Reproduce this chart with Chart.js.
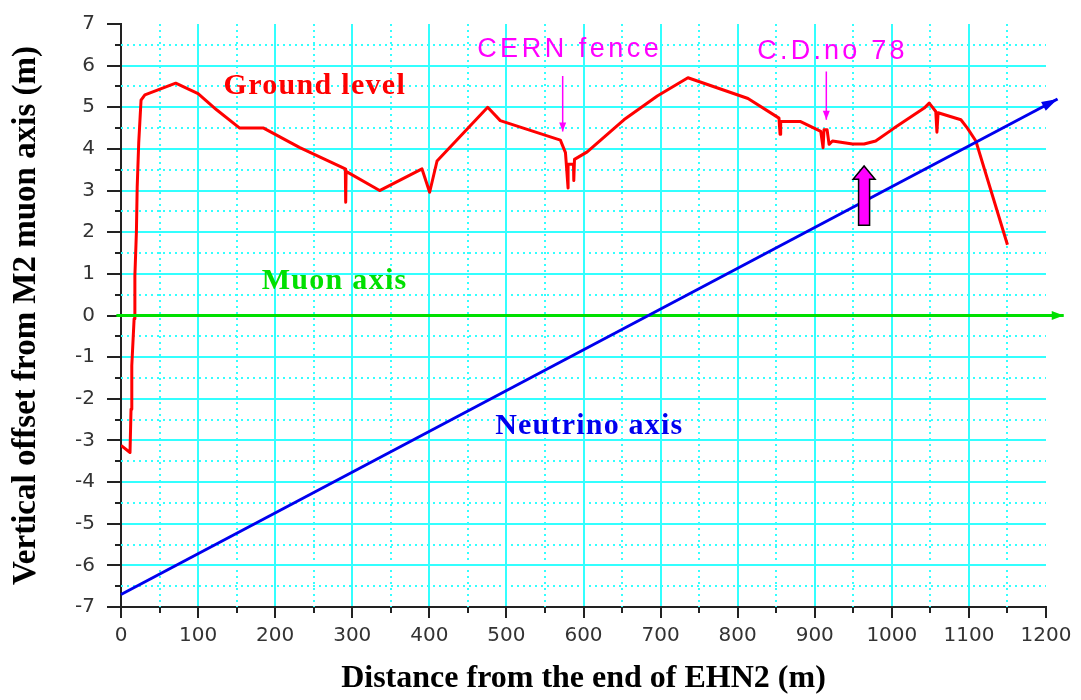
<!DOCTYPE html>
<html>
<head>
<meta charset="utf-8">
<title>Ground level, muon axis and neutrino axis</title>
<script src="https://cdn.jsdelivr.net/npm/chart.js@4.4.1/dist/chart.umd.min.js"></script>
<style>
  html, body { margin: 0; padding: 0; background: #fff; }
  #wrap { width: 1081px; height: 700px; }
</style>
</head>
<body>
<div id="wrap"><canvas id="profileChart"></canvas></div>
<script>
// ground profile (distance in m, offset in m)
const groundX = [0, 11.7, 13, 14, 17, 18, 20, 21, 23, 26,
  31, 71, 100, 124, 154, 185, 232, 291, 291.5, 292,
  335.5, 390.5, 400.4, 410, 475.7, 492, 570, 576.6, 580, 580,
  587, 587.4, 588.3, 604.8, 652.4, 695.7, 735.5, 813.4, 853.6, 855,
  855.8, 881, 907.8, 910.8, 912, 916, 918.6, 923, 949, 964,
  979, 1003, 1042, 1048.5, 1057, 1058.5, 1060, 1089.6, 1098, 1109,
  1150];
const groundY = [-3.12, -3.29, -2.25, -1.2, -0.08, 0.95, 2.01, 3.08, 4.15, 5.17,
  5.3, 5.58, 5.33, 4.94, 4.5, 4.5, 4.03, 3.52, 2.72, 3.46,
  3.0, 3.52, 2.96, 3.71, 5.0, 4.68, 4.21, 3.91, 3.06, 3.63,
  3.63, 3.24, 3.75, 3.93, 4.7, 5.27, 5.71, 5.21, 4.74, 4.35,
  4.66, 4.66, 4.42, 4.03, 4.46, 4.46, 4.11, 4.19, 4.12, 4.12,
  4.19, 4.5, 4.98, 5.1, 4.9, 4.4, 4.87, 4.7, 4.5, 4.19,
  1.7];

// the two beam axes
const muonX = [-6, 1223];
const muonY = [0, 0];
const nuX = [0, 1215];
const nuY = [-6.7, 5.2];

// little pointer arrows (CERN fence, C.D. no 78) and the big up arrow
const fenceX = [573, 573];
const fenceY = [5.75, 4.42];
const cdX = [915, 915];
const cdY = [5.86, 4.7];
const upArrowX = 964;
const upArrowY = [2.17, 3.27, 3.59]; // bottom, start of head, tip

// tick labels
const xTicks = [0, 100, 200, 300, 400, 500, 600, 700, 800, 900, 1000, 1100, 1200];
const yTicks = [-7, -6, -5, -4, -3, -2, -1, 0, 1, 2, 3, 4, 5, 6, 7];

const pts = (xs, ys) => xs.map((v, i) => ({ x: v, y: ys[i] }));

const CYAN = '#33ffff';
const AXIS = '#222';

// texts written on the plot, anchored in data units (left, baseline)
const notes = [
  { text: 'Ground level', x: 133, y: 5.32, color: '#ff0000', font: 'bold 30px "Liberation Serif"', spacing: 1.3 },
  { text: 'Muon axis', x: 182.5, y: 0.63, color: '#00e000', font: 'bold 30px "Liberation Serif"', spacing: 1.3 },
  { text: 'Neutrino axis', x: 485.5, y: -2.84, color: '#0000ee', font: 'bold 30px "Liberation Serif"', spacing: 1.2 },
  { text: 'CERN fence', x: 462, y: 6.2, color: '#ff00ff', font: '27px "Liberation Sans"', spacing: 3.5 },
  { text: 'C.D.no 78', x: 825.5, y: 6.16, color: '#ff00ff', font: '27px "Liberation Sans"', spacing: 3.2 }
];

function head(ctx, p0, p1, len, half, color) {
  const ang = Math.atan2(p1.y - p0.y, p1.x - p0.x);
  ctx.save();
  ctx.translate(p1.x, p1.y);
  ctx.rotate(ang);
  ctx.beginPath();
  ctx.moveTo(0, 0);
  ctx.lineTo(-len, -half);
  ctx.lineTo(-len, half);
  ctx.closePath();
  ctx.fillStyle = color;
  ctx.fill();
  ctx.restore();
}

const decor = {
  id: 'decor',
  beforeDatasetsDraw(chart) {
    const { ctx, chartArea: a, scales: { x, y } } = chart;
    ctx.save();
    // dotted half-step grid
    ctx.strokeStyle = CYAN;
    ctx.lineWidth = 2;
    ctx.setLineDash([2, 4]);
    for (let i = 0; i < xTicks.length - 1; i++) {
      const px = Math.round(x.getPixelForValue((xTicks[i] + xTicks[i + 1]) / 2));
      ctx.beginPath(); ctx.moveTo(px, a.top); ctx.lineTo(px, a.bottom); ctx.stroke();
    }
    for (let i = 0; i < yTicks.length - 1; i++) {
      const py = Math.round(y.getPixelForValue((yTicks[i] + yTicks[i + 1]) / 2));
      ctx.beginPath(); ctx.moveTo(a.left, py); ctx.lineTo(a.right, py); ctx.stroke();
    }
    // short minor ticks
    ctx.setLineDash([]);
    ctx.strokeStyle = AXIS;
    for (let i = 0; i < xTicks.length - 1; i++) {
      const px = Math.round(x.getPixelForValue((xTicks[i] + xTicks[i + 1]) / 2));
      ctx.beginPath(); ctx.moveTo(px, a.bottom); ctx.lineTo(px, a.bottom + 6); ctx.stroke();
    }
    for (let i = 0; i < yTicks.length - 1; i++) {
      const py = Math.round(y.getPixelForValue((yTicks[i] + yTicks[i + 1]) / 2));
      ctx.beginPath(); ctx.moveTo(a.left - 6, py); ctx.lineTo(a.left, py); ctx.stroke();
    }
    ctx.restore();
  },
  afterDatasetsDraw(chart) {
    const { ctx, scales: { x, y } } = chart;
    // arrow heads at the end of flagged datasets
    chart.data.datasets.forEach((ds, i) => {
      if (!ds.arrow) return;
      const d = chart.getDatasetMeta(i).data;
      const p0 = d[d.length - 2], p1 = d[d.length - 1];
      head(ctx, p0, p1, ds.arrow[0], ds.arrow[1], ds.borderColor);
    });

    // big magenta arrow
    const cx = x.getPixelForValue(upArrowX);
    const yb = y.getPixelForValue(upArrowY[0]);
    const yh = y.getPixelForValue(upArrowY[1]);
    const yt = y.getPixelForValue(upArrowY[2]);
    ctx.save();
    ctx.beginPath();
    ctx.moveTo(cx - 5.5, yb);
    ctx.lineTo(cx - 5.5, yh);
    ctx.lineTo(cx - 11, yh);
    ctx.lineTo(cx, yt);
    ctx.lineTo(cx + 11, yh);
    ctx.lineTo(cx + 5.5, yh);
    ctx.lineTo(cx + 5.5, yb);
    ctx.closePath();
    ctx.fillStyle = '#ff00ff';
    ctx.fill();
    ctx.lineWidth = 1.5;
    ctx.strokeStyle = '#000';
    ctx.stroke();

    // labels
    ctx.textAlign = 'left';
    ctx.textBaseline = 'alphabetic';
    notes.forEach(n => {
      ctx.font = n.font;
      ctx.letterSpacing = n.spacing + 'px';
      ctx.fillStyle = n.color;
      ctx.fillText(n.text, x.getPixelForValue(n.x), y.getPixelForValue(n.y));
    });
    ctx.letterSpacing = '0px';
    ctx.restore();
  }
};

const ctx = document.getElementById('profileChart').getContext('2d');
const profileChart = new Chart(ctx, {
  type: 'scatter',
  data: {
    datasets: [
      {
        label: 'Neutrino axis',
        data: pts(nuX, nuY),
        borderColor: '#0000ee',
        borderWidth: 3,
        arrow: [16, 5],
        clip: false
      },
      {
        label: 'Muon axis',
        data: pts(muonX, muonY),
        borderColor: '#00e000',
        borderWidth: 3,
        arrow: [12, 4.5],
        clip: false
      },
      {
        label: 'Ground level',
        data: pts(groundX, groundY),
        borderColor: '#ff0000',
        borderWidth: 3,
        borderJoinStyle: 'round'
      },
      {
        label: 'CERN fence',
        data: pts(fenceX, fenceY),
        borderColor: '#ff00ff',
        borderWidth: 1.5,
        arrow: [9, 3.5]
      },
      {
        label: 'C.D.no 78',
        data: pts(cdX, cdY),
        borderColor: '#ff00ff',
        borderWidth: 1.5,
        arrow: [9, 3.5]
      }
    ]
  },
  options: {
    responsive: true,
    maintainAspectRatio: false,
    animation: false,
    showLine: true,
    elements: {
      point: { radius: 0, hoverRadius: 0 },
      line: { tension: 0, fill: false }
    },
    layout: { padding: { top: 16, right: 35, left: 0, bottom: 0 } },
    plugins: {
      legend: { display: false },
      tooltip: { enabled: false }
    },
    scales: {
      x: {
        type: 'linear',
        min: 0,
        max: 1200,
        afterBuildTicks: s => { s.ticks = xTicks.map(v => ({ value: v })); },
        afterFit: s => { s.height = 93; },
        grid: {
          color: c => (c.tick && c.tick.value === 1200) ? 'rgba(0,0,0,0)' : CYAN,
          lineWidth: 2,
          tickColor: AXIS,
          tickLength: 11,
          tickWidth: 2
        },
        border: { color: AXIS, width: 2 },
        ticks: {
          color: '#333',
          font: { family: '"DejaVu Sans"', size: 20 },
          padding: 6,
          maxRotation: 0,
          autoSkip: false,
          callback: v => String(v)
        },
        title: {
          display: true,
          text: 'Distance from the end of EHN2 (m)',
          color: '#000',
          font: { family: '"Liberation Serif"', size: 32, weight: 'bold' },
          padding: { top: 0, bottom: 2 }
        }
      },
      y: {
        type: 'linear',
        min: -7,
        max: 7,
        afterBuildTicks: s => { s.ticks = yTicks.map(v => ({ value: v })); },
        afterFit: s => { s.width = 121; },
        grid: {
          color: c => (c.tick && c.tick.value === 7) ? 'rgba(0,0,0,0)' : CYAN,
          lineWidth: 2,
          tickColor: AXIS,
          tickLength: 14,
          tickWidth: 2
        },
        border: { color: AXIS, width: 2 },
        ticks: {
          color: '#333',
          font: { family: '"DejaVu Sans"', size: 20 },
          padding: 12,
          autoSkip: false,
          callback: v => String(v)
        },
        title: {
          display: true,
          text: 'Vertical offset from M2 muon axis (m)',
          color: '#000',
          font: { family: '"Liberation Serif"', size: 33, weight: 'bold' },
          padding: { top: 7, bottom: 0 }
        }
      }
    }
  },
  plugins: [decor]
});
</script>
</body>
</html>
